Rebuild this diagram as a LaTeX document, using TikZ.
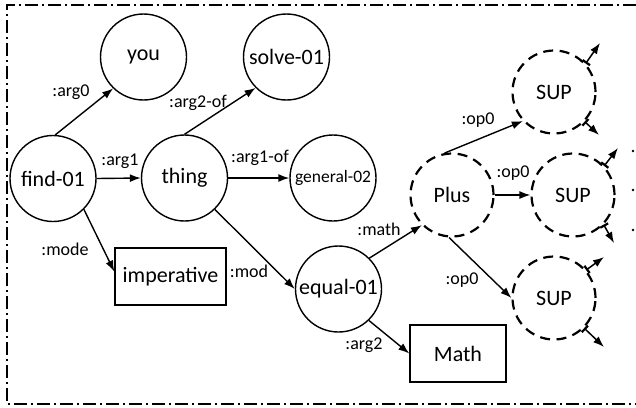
\documentclass[tikz,border=0pt]{standalone}
\usepackage{fontspec}
\setmainfont{Carlito}
\usetikzlibrary{arrows.meta}
\begin{document}
\begin{tikzpicture}[x=1pt,y=-1pt,
  nodefont/.style={font=\fontsize{22}{24}\selectfont},
  concept/.style={circle,draw,line width=1.4pt,minimum size=86pt,inner sep=0pt,nodefont},
  dconcept/.style={circle,draw,line width=2.2pt,dash pattern=on 10pt off 6.5pt,minimum size=83pt,inner sep=0pt,nodefont},
  boxnode/.style={rectangle,draw,line width=1.4pt,inner sep=0pt,nodefont},
  lbl/.style={font=\fontsize{18}{20}\selectfont,inner sep=0pt},
  edge/.style={line width=1.4pt,-{Latex[length=11pt,width=8pt]}},
  outedge/.style={line width=1.5pt,{Bar[width=9pt,line width=2.2pt]}-{Latex[length=11pt,width=8pt]}},
  frame/.style={line width=1.4pt,dash pattern=on 13pt off 4pt on 2pt off 4pt}]
\useasboundingbox (0,0) rectangle (636,407);
% frame (open on the right)
\draw[frame] (636,5) -- (7,5) -- (7,404) -- (636,404);
% concept nodes
\node[concept] (find) at (53,178.5) {find-01};
\node[concept] (you) at (143.5,57) {you};
\node[concept] (solve) at (286.5,57) {solve-01};
\node[concept] (thing) at (184.5,178) {thing};
\node[concept,font=\fontsize{17.5}{19}\selectfont] (general) at (333,178) {general-02};
\node[concept] (equal) at (338.5,289) {equal-01};
\node[boxnode,minimum width=111pt,minimum height=57pt] (imp) at (170.5,276.5) {imperative};
\node[boxnode,minimum width=96pt,minimum height=57pt] (math) at (458,353.5) {Math};
\node[dconcept] (plus) at (452,195) {Plus};
\node[dconcept] (sup1) at (554,92) {SUP};
\node[dconcept] (sup2) at (573,195) {SUP};
\node[dconcept] (sup3) at (554,298) {SUP};
% free ends
\coordinate (o1a) at (600,43);
\coordinate (o1b) at (599,135);
\coordinate (o2a) at (618,148);
\coordinate (o2b) at (614,243);
\coordinate (o3a) at (604,257);
\coordinate (o3b) at (604,347);
% connectors
\draw[edge] (find.87) -- (you.226);
\draw[edge] (find.east) -- (thing.west);
\draw[edge] (find.-45) -- (imp.175);
\draw[edge] (thing.90) -- (solve.225);
\draw[edge] (thing.east) -- (general.west);
\draw[edge] (thing.-46) -- (equal.west);
\draw[edge] (equal.45) -- (plus.225);
\draw[edge] (equal.-46) -- (math.west);
\draw[edge] (plus.100) -- (sup1.223);
\draw[edge] (plus.east) -- (sup2.west);
\draw[edge] (plus.-94) -- (sup3.west);
\draw[outedge] (sup1.42) -- (o1a);
\draw[outedge] (sup1.-44) -- (o1b);
\draw[outedge] (sup2.43) -- (o2a);
\draw[outedge] (sup2.-44) -- (o2b);
\draw[outedge] (sup3.41) -- (o3a);
\draw[outedge] (sup3.-45) -- (o3b);
% labels
\node[lbl] (l1) at (71,92) {:arg0};
\node[lbl] (l2) at (120,161) {:arg1};
\node[lbl] (l3) at (198,103) {:arg2-of};
\node[lbl] (l4) at (260,158) {:arg1-of};
\node[lbl] (l5) at (65,249) {:mode};
\node[lbl] (l6) at (249,271) {:mod};
\node[lbl] (l7) at (379,229) {:math};
\node[lbl] (l8) at (364,345) {:arg2};
\node[lbl] (l9) at (478,120) {:op0};
\node[lbl] (l10) at (513,173) {:op0};
\node[lbl] (l11) at (462,280) {:op0};
% dots at right edge
\fill (633,151) circle (1.3);
\fill (633,190) circle (1.3);
\fill (633,230) circle (1.3);
\end{tikzpicture}
\end{document}
